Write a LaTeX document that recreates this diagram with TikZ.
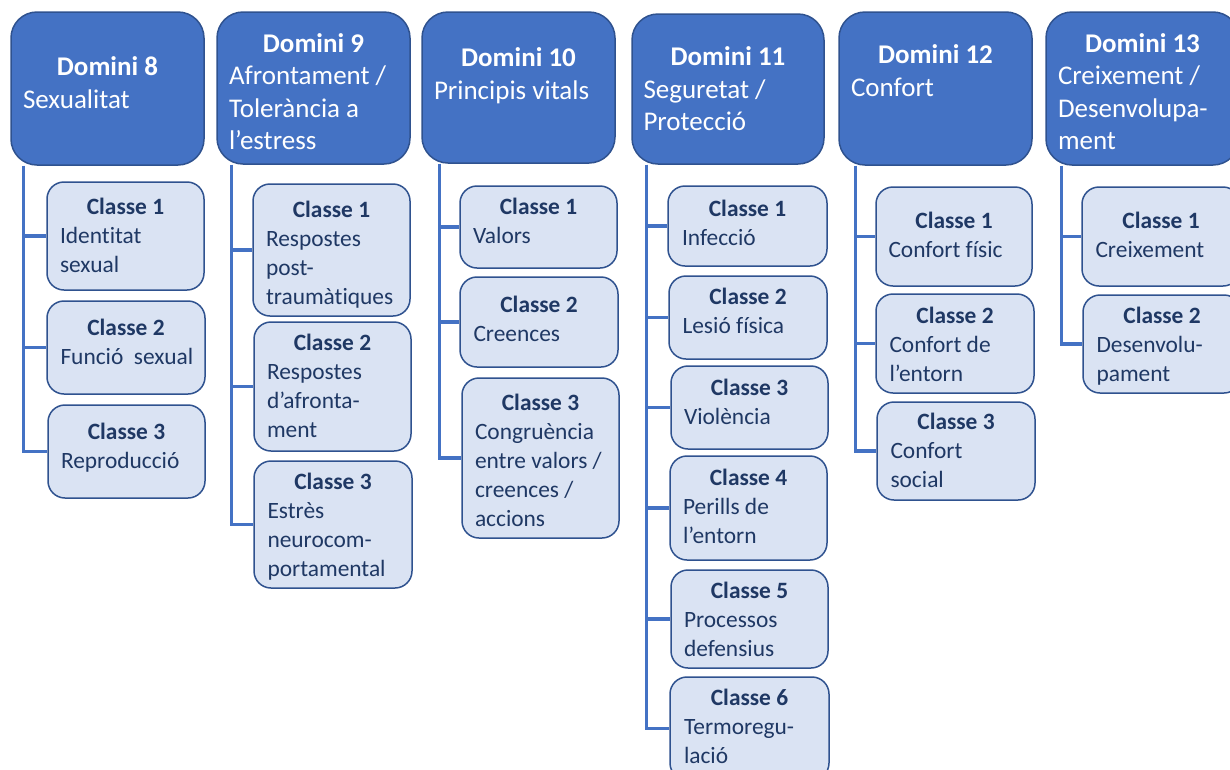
\documentclass[tikz,border=0pt]{standalone}
\usepackage{fontspec}
\setmainfont{Carlito}[Ligatures=NoCommon]
\usetikzlibrary{backgrounds}
\definecolor{dfill}{HTML}{4472C4}
\definecolor{dline}{HTML}{2F528F}
\definecolor{cfill}{HTML}{DAE3F3}
\definecolor{ctext}{HTML}{1F3864}
\definecolor{linkblue}{HTML}{4472C4}
\tikzset{
  dombox/.style={draw=dline, line width=1.5pt, fill=dfill, rounded corners=26pt, inner sep=0pt},
  clsbox/.style={draw=dline, line width=1.5pt, fill=cfill, rounded corners=17pt, inner sep=0pt},
  domtext/.style={text=white, inner sep=0pt, font=\fontsize{27}{32.5}\selectfont},
  clstext/.style={text=ctext, inner sep=0pt, font=\fontsize{23.4}{29}\selectfont},
  branch/.style={draw=linkblue, line width=3.5pt},
}
% label with a centred bold heading and left-aligned lines below it
\newcommand\dlab[2]{\begin{minipage}[t]{169pt}\centering\textbf{#1}\par\raggedright #2\end{minipage}}
\newcommand\clab[2]{\begin{minipage}[t]{131pt}\centering\textbf{#1}\par\raggedright #2\end{minipage}}
% name, x1, y1, x2, y2, first baseline, heading, lines
\newcommand\dombox[8]{%
  \node[dombox, minimum width={#4-#2}, minimum height={#5-#3}] (#1) at ({(#2+#4)/2},{(#3+#5)/2}) {};
  \node[domtext, anchor=base] (#1t) at ({(#2+#4)/2},#6) {\dlab{#7}{#8}};}
\newcommand\clsbox[8]{%
  \node[clsbox, minimum width={#4-#2}, minimum height={#5-#3}] (#1) at ({(#2+#4)/2},{(#3+#5)/2}) {};
  \node[clstext, anchor=base] (#1t) at ({(#2+#4)/2},#6) {\clab{#7}{#8}};}
\begin{document}
\begin{tikzpicture}[x=1pt, y=-1pt]
\useasboundingbox (0,0) rectangle (1230,769);

% domains
\dombox{d8}{11}{12}{204}{165}{75.5}{Domini 8}{Sexualitat}
\dombox{d9}{217}{12}{410}{164}{52}{Domini 9}{Afrontament /\\Tolerància a\\l’estress}
\dombox{d10}{422}{12}{615}{163}{66.5}{Domini 10}{Principis vitals}
\dombox{d11}{632}{14}{824}{164}{65.5}{Domini 11}{Seguretat /\\Protecció}
\dombox{d12}{839}{12}{1032}{165}{63.5}{Domini 12}{Confort}
\dombox{d13}{1046}{12}{1239}{165}{52}{Domini 13}{Creixement /\\Desenvolupa-\\ment}

% trunk start points under each domain
\coordinate (s8) at ([xshift=13]d8.south west);
\coordinate (s9) at ([xshift=15]d9.south west);
\coordinate (s10) at ([xshift=18]d10.south west);
\coordinate (s11) at ([xshift=15]d11.south west);
\coordinate (s12) at ([xshift=17]d12.south west);
\coordinate (s13) at ([xshift=16]d13.south west);

% classes
\clsbox{c81}{47}{182}{204}{290}{214}{Classe 1}{Identitat\\sexual}
\clsbox{c82}{47}{301}{205}{394}{335}{Classe 2}{\mbox{Funció\hspace{0.45em}sexual}}
\clsbox{c83}{48}{405}{205}{498}{439}{Classe 3}{Reproducció}

\clsbox{c91}{253}{184}{410}{316}{217}{Classe 1}{Respostes\\post-\\traumàtiques}
\clsbox{c92}{254}{322}{411}{451}{350}{Classe 2}{Respostes\\d’afronta-\\ment}
\clsbox{c93}{254}{461}{412}{588}{489}{Classe 3}{Estrès\\neurocom-\\portamental}

\clsbox{c101}{460}{186}{617}{268}{214}{Classe 1}{Valors}
\clsbox{c102}{460}{277}{618}{367}{312}{Classe 2}{Creences}
\clsbox{c103}{462}{378}{619}{538}{410}{Classe 3}{Congruència\\entre valors /\\creences /\\accions}

\clsbox{c111}{668}{186}{827}{266}{216}{Classe 1}{Infecció}
\clsbox{c112}{669}{276}{827}{359}{304}{Classe 2}{Lesió física}
\clsbox{c113}{671}{366}{828}{449}{395}{Classe 3}{Violència}
\clsbox{c114}{670}{456}{827}{560}{485}{Classe 4}{Perills de\\l’entorn}
\clsbox{c115}{671}{570}{828}{668}{598}{Classe 5}{Processos\\defensius}
\clsbox{c116}{670}{677}{829}{780}{705}{Classe 6}{Termoregu-\\lació}

\clsbox{c121}{876}{187}{1032}{286}{228}{Classe 1}{Confort físic}
\clsbox{c122}{876}{294}{1034}{393}{323}{Classe 2}{Confort de\\l’entorn}
\clsbox{c123}{877}{402}{1035}{500}{429}{Classe 3}{Confort\\social}

\clsbox{c131}{1082}{187}{1240}{286}{228}{Classe 1}{Creixement}
\clsbox{c132}{1083}{295}{1241}{393}{323}{Classe 2}{Desenvolu-\\pament}

% branches from each domain to its classes, kept behind the boxes
\begin{scope}[on background layer]
\foreach \s/\cl in {s8/c81,s8/c82,s8/c83,
                    s9/c91,s9/c92,s9/c93,
                    s10/c101,s10/c102,s10/c103,
                    s11/c111,s11/c112,s11/c113,s11/c114,s11/c115,s11/c116,
                    s12/c121,s12/c122,s12/c123,
                    s13/c131,s13/c132}
  \draw[branch] (\s) |- (\cl.west);
\end{scope}
\end{tikzpicture}
\end{document}
